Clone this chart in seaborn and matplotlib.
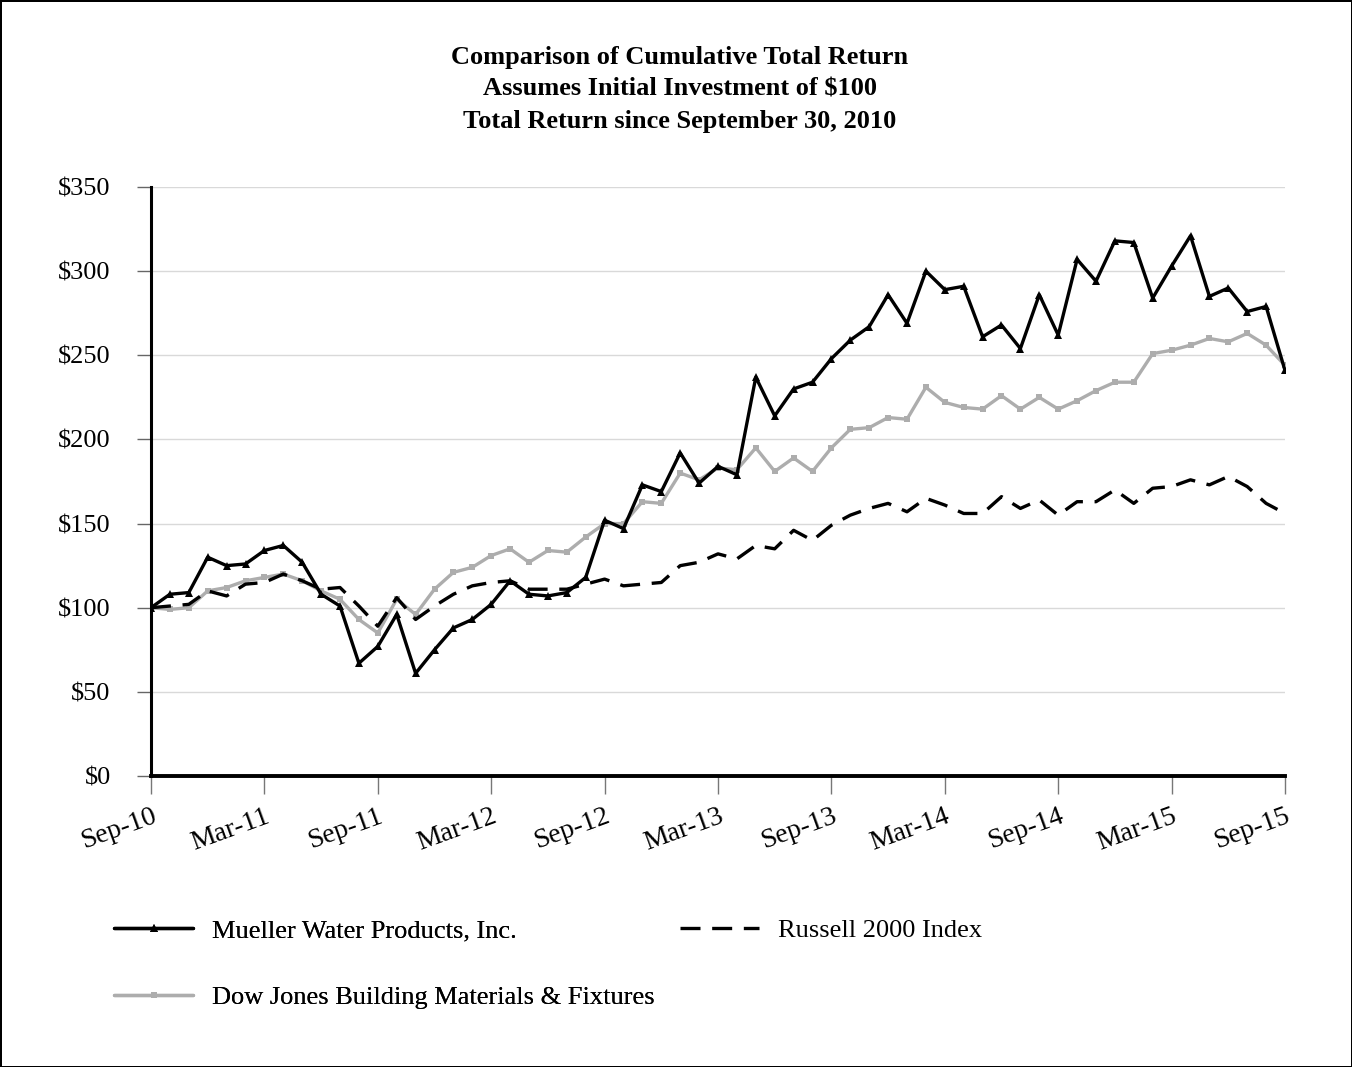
import matplotlib
matplotlib.use("Agg")
import matplotlib.pyplot as plt
import seaborn as sns
import pandas as pd
from matplotlib.lines import Line2D
from matplotlib.ticker import FuncFormatter

# ---- data (monthly, Sep-10 .. Sep-15) ----
months = list(range(61))
tick_pos = list(range(0, 61, 6))
tick_labels = ["Sep-10", "Mar-11", "Sep-11", "Mar-12", "Sep-12", "Mar-13",
               "Sep-13", "Mar-14", "Sep-14", "Mar-15", "Sep-15"]

mueller = [100, 108, 109, 130, 125, 126, 134, 137, 127, 108,
           101, 67, 77, 96, 61, 75, 88, 93, 102, 116,
           108, 107, 109, 118, 152, 147, 173, 169, 192, 174,
           184, 179, 237, 214, 230, 234, 248, 259, 267, 286,
           269, 300, 289, 291, 261, 268, 254, 286, 262, 307,
           294, 318, 317, 284, 303, 321, 285, 290, 276, 279, 241]

dow_jones = [100, 99, 100, 110, 112, 116, 118, 120, 116, 110,
             105, 93, 85, 105, 96, 111, 121, 124, 131, 135,
             127, 134, 133, 142, 150, 150, 163, 162, 180, 176,
             183, 182, 195, 181, 189, 181, 195, 206, 207, 213,
             212, 231, 222, 219, 218, 226, 218, 225, 218, 223,
             229, 234, 234, 251, 253, 256, 260, 258, 263, 256, 244]

russell = [100, 101, 102, 110, 107, 114, 115, 120, 116, 111,
           112, 101, 89, 106, 93, 101, 108, 113, 115, 116,
           111, 111, 111, 114, 117, 113, 114, 115, 125, 127,
           132, 129, 137, 135, 146, 140, 149, 155, 159, 162,
           157, 165, 161, 156, 156, 166, 159, 164, 155, 163,
           163, 170, 162, 171, 172, 176, 173, 178, 172, 162, 156]

df = pd.DataFrame({"month": months, "mueller": mueller,
                   "dow": dow_jones, "russell": russell})

sns.set_style("white")
plt.rcParams["font.family"] = ["Liberation Serif", "DejaVu Serif"]
plt.rcParams["text.color"] = "black"
plt.rcParams["xtick.color"] = "black"
plt.rcParams["ytick.color"] = "black"

GRAY = "#adadad"
FS = 19

fig = plt.figure(figsize=(13.52, 10.67), dpi=100, linewidth=2, edgecolor="black")
ax = fig.add_axes([151 / 1352, 1 - 776 / 1067, (1285 - 151) / 1352, (776 - 187) / 1067])

# gray and dashed first, black on top
sns.lineplot(data=df, x="month", y="dow", ax=ax, color=GRAY, lw=2.4,
             marker="s", markersize=4, markeredgewidth=0)
sns.lineplot(data=df, x="month", y="russell", ax=ax, color="black", lw=2.4,
             dashes=(6, 3.5))
sns.lineplot(data=df, x="month", y="mueller", ax=ax, color="black", lw=2.4,
             marker="^", markersize=6, markeredgewidth=0)

ax.set_xlim(0, 60)
ax.set_ylim(0, 350)
ax.set_yticks(range(0, 351, 50))
ax.yaxis.set_major_formatter(FuncFormatter(lambda v, p: f"${int(v)}"))
ax.set_xticks(tick_pos)
ax.set_xticklabels(tick_labels, rotation=20, ha="right", va="top",
                   rotation_mode="anchor")
ax.set_xlabel("")
ax.set_ylabel("")

ax.grid(axis="y", color="#d9d9d9", lw=1)
ax.set_axisbelow(True)
for s in ["top", "right"]:
    ax.spines[s].set_visible(False)
ax.spines["left"].set_color("black")
ax.spines["left"].set_linewidth(2.2)
ax.spines["bottom"].set_color("black")
ax.spines["bottom"].set_linewidth(2.8)

ax.tick_params(axis="y", direction="out", length=10, width=1, color="#666666",
               labelsize=FS, pad=19, left=True)
ax.tick_params(axis="x", direction="out", length=13, width=1, color="#777777",
               labelsize=20, pad=7, bottom=True)

# title
fig.text(0.503, 1 - 46 / 1067,
         "Comparison of Cumulative Total Return\nAssumes Initial Investment of $100\n"
         "Total Return since September 30, 2010",
         ha="center", va="top", fontsize=FS, fontweight="bold", linespacing=1.49)

# legends
h_mueller = Line2D([], [], color="black", lw=2.4, marker="^", markersize=6,
                   markeredgewidth=0, markevery=[1])
h_dow = Line2D([], [], color=GRAY, lw=2.4, marker="s", markersize=4,
               markeredgewidth=0, markevery=[1])
h_russell = Line2D([], [], color="black", lw=2.4, dashes=(6, 3.5))

leg_kw = dict(loc="upper left", frameon=False, fontsize=FS, handlelength=3.0,
              handletextpad=0.72, borderpad=0, borderaxespad=0)
leg1 = fig.legend([h_mueller, h_dow],
                  ["Mueller Water Products, Inc.", "Dow Jones Building Materials & Fixtures"],
                  bbox_to_anchor=(114 / 1352, 1 - 919 / 1067), labelspacing=1.63, **leg_kw)
fig.add_artist(leg1)
fig.legend([h_russell], ["Russell 2000 Index"],
           bbox_to_anchor=(680 / 1352, 1 - 919 / 1067), **leg_kw)

fig.savefig("out.png", dpi=100)
